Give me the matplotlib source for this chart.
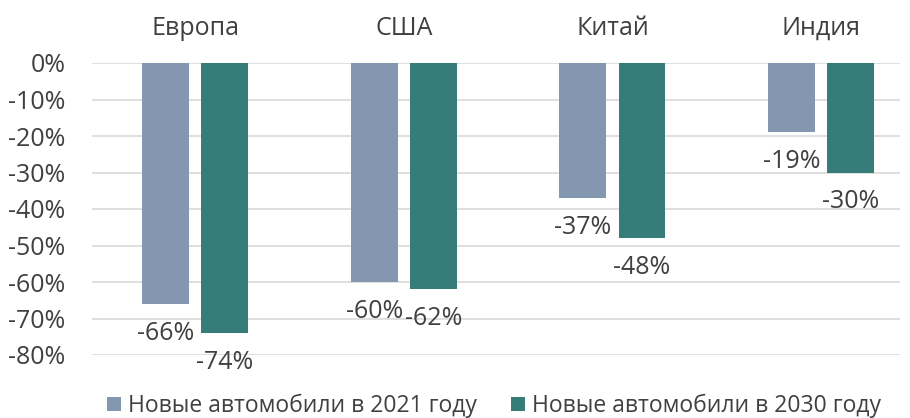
import numpy as np
import matplotlib.pyplot as plt
from matplotlib import rcParams

rcParams['font.family'] = ['Open Sans', 'DejaVu Sans']
rcParams['font.size'] = 18

regions = ["Европа", "США", "Китай", "Индия"]
new_2021 = [-66, -60, -37, -19]
new_2030 = [-74, -62, -48, -30]
series_names = ["Новые автомобили в 2021 году", "Новые автомобили в 2030 году"]
colors = ["#8497B0", "#367C78"]
text_color = "#404040"

W, H = 910, 418
fig = plt.figure(figsize=(W / 100, H / 100), dpi=100)
# axes in pixel coordinates: left 92, right 900, top y=63 (0%), bottom y=355 (-80%)
ax = fig.add_axes([92 / W, 1 - 355 / H, (900 - 92) / W, (355 - 63) / H])

x = np.arange(len(regions))
width = 0.225
off = 0.1415

b1 = ax.bar(x - off, new_2021, width, color=colors[0], label=series_names[0], zorder=3)
b2 = ax.bar(x + off, new_2030, width, color=colors[1], label=series_names[1], zorder=3)

for bars in (b1, b2):
    for rect in bars:
        v = rect.get_height()
        ax.annotate(f"{v:.0f}%", (rect.get_x() + rect.get_width() / 2, v),
                    xytext=(0, -12), textcoords="offset points",
                    ha="center", va="top", color=text_color, fontsize=18)

ax.set_ylim(-80, 0)
ax.set_xlim(-0.496, 3.379)
ax.set_yticks(np.arange(-80, 1, 10))
ax.set_yticklabels([f"{t}%" for t in np.arange(-80, 1, 10)])
ax.yaxis.grid(True, color="#D9D9D9", linewidth=1.2, zorder=0)
ax.set_axisbelow(True)

ax.xaxis.tick_top()
ax.set_xticks(x)
ax.set_xticklabels(regions)
ax.tick_params(axis="x", length=0, pad=16, colors=text_color, labelsize=18)
ax.tick_params(axis="y", length=0, pad=19, colors=text_color, labelsize=18)
for s in ax.spines.values():
    s.set_visible(False)

fig.legend(loc="lower center", bbox_to_anchor=(0.543, -0.05), ncol=2, frameon=False,
           fontsize=16.5, handlelength=0.6, handleheight=0.6, handletextpad=0.3,
           columnspacing=1.5, labelcolor=text_color)

fig.savefig("out.png", dpi=100)
